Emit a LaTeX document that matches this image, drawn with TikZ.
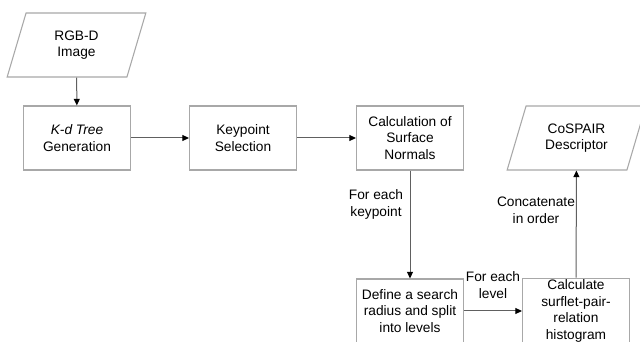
\documentclass[tikz,border=0pt]{standalone}
\usepackage{fontspec}
\setmainfont{Liberation Sans}
\usepackage{tikz}
\usetikzlibrary{arrows.meta,shapes.geometric}
\definecolor{boxgray}{HTML}{A8A8A8}
\definecolor{linegray}{HTML}{606060}
\tikzset{
  stepbox/.style={draw=boxgray, line width=0.8pt, minimum width=80.25pt, minimum height=48pt, align=center, inner sep=1pt},
  iobox/.style={trapezium, trapezium left angle=57, trapezium right angle=123, trapezium stretches body,
    draw=boxgray, line width=0.8pt, minimum width=104pt, minimum height=48pt, align=center, inner sep=0pt},
  flow/.style={draw=linegray, line width=0.75pt, -{Triangle[length=5pt,width=4.5pt,color=black]}},
  note/.style={align=center, inner sep=0pt}
}
\begin{document}
\begin{tikzpicture}[x=0.75pt,y=-0.75pt,font=\fontsize{10.3}{12.5}\selectfont]
  \useasboundingbox (0,0) rectangle (640,342);
  \fill[white] (0,0) rectangle (640,342);
  % top row
  \node[iobox] (rgbd) at (76.5,45) {RGB-D\\Image};
  \node[stepbox] (kdtree) at (77,138) {\textit{K-d Tree}\\Generation};
  \node[stepbox] (keypt) at (243,138) {Keypoint\\Selection};
  \node[stepbox] (normals) at (410,138) {Calculation of\\Surface\\Normals};
  \node[iobox] (cospair) at (576.5,138) {CoSPAIR\\Descriptor};
  % bottom row
  \node[stepbox] (radius) at (410,311) {Define a search\\radius and split\\into levels};
  \node[stepbox] (hist) at (576,311) {Calculate\\surflet-pair-\\relation\\histogram};
  % connectors
  \draw[flow] (rgbd) -- (kdtree);
  \draw[flow] (kdtree) -- (keypt);
  \draw[flow] (keypt) -- (normals);
  \draw[flow] (normals) -- (radius);
  \draw[flow] (radius) -- (hist);
  \draw[flow] (hist) -- (cospair);
  % labels
  \node[note] (lkey) at (376,204.5) {For each\\keypoint};
  \node[note] (llev) at (493,285) {For each\\level};
  \node[note] (lcat) at (536,210) {Concatenate\\in order};
\end{tikzpicture}
\end{document}
